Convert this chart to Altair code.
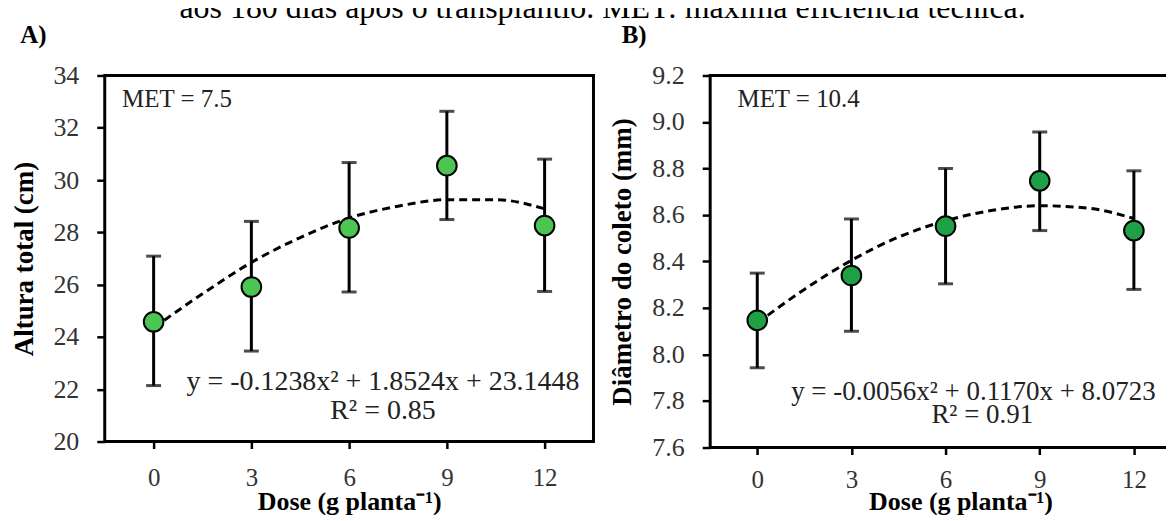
import altair as alt
import pandas as pd

SERIF = "Liberation Serif"

# ---------------- data ----------------
dose = [0, 3, 6, 9, 12]

altura_mean = [24.58, 25.91, 28.17, 30.55, 28.26]
altura_low = [22.14, 23.46, 25.72, 28.49, 25.74]
altura_high = [27.09, 28.42, 30.67, 32.63, 30.80]

diam_mean = [8.147, 8.34, 8.552, 8.747, 8.533]
diam_low = [7.943, 8.10, 8.304, 8.533, 8.28]
diam_high = [8.35, 8.583, 8.80, 8.957, 8.79]

curve_x = [0, 1.5, 3, 4.5, 6, 7.5, 9, 10.5, 12]
altura_fit = [24.35, 25.65, 26.85, 27.8, 28.55, 29.0, 29.25, 29.25, 28.9]
diam_fit = [8.135, 8.28, 8.405, 8.505, 8.575, 8.62, 8.64, 8.63, 8.585]

altura_ticks = [20, 22, 24, 26, 28, 30, 32, 34]
diam_ticks = [7.6, 7.8, 8.0, 8.2, 8.4, 8.6, 8.8, 9.0, 9.2]

caption = "aos 180 dias após o transplantio. MET: máxima eficiência técnica."
panel_labels = ["A)", "B)"]
met_labels = ["MET = 7.5", "MET = 10.4"]
eq_labels = ["y = -0.1238x\u00b2 + 1.8524x + 23.1448", "y = -0.0056x\u00b2 + 0.1170x + 8.0723"]
r2_labels = ["R\u00b2 = 0.85", "R\u00b2 = 0.91"]
y_titles = ["Altura total (cm)", "Diâmetro do coleto (mm)"]
x_title = "Dose (g planta\u207b\u00b9)"

# annotation anchor positions (data units)
a_text_pos = {"met": (-0.97, 33.09), "eq": (7.04, 22.29), "r2": (7.04, 21.15),
              "lab": (-4.09, 35.25), "cap": (13.78, 36.2)}
b_text_pos = {"met": (-0.63, 9.097), "eq": (1.08, 7.84), "r2": (7.17, 7.741),
              "lab": (-4.32, 9.34)}


def panel(mean, low, high, fit, ydom, yticks, yfmt, ytitle, fill, w, h,
          ytitle_x, xtitle_x, xtitle_y, xlab_pad, texts):
    pts = pd.DataFrame({"x": dose, "m": mean, "lo": low, "hi": high})
    fitdf = pd.DataFrame({"x": curve_x, "f": fit})
    xs = alt.Scale(domain=[-1.5, 13.5], nice=False, zero=False)
    ys = alt.Scale(domain=ydom, nice=False, zero=False)
    xax = alt.Axis(values=dose, format="d", title=x_title, domain=False, grid=False,
                   tickSize=7, tickWidth=2.5, tickColor="black",
                   labelFont=SERIF, labelFontSize=25, labelColor="#333333",
                   labelBaseline="alphabetic", labelPadding=xlab_pad,
                   titleFont=SERIF, titleFontSize=26, titleFontWeight="bold", titleColor="black",
                   titleX=xtitle_x, titleY=xtitle_y, titleBaseline="alphabetic", titleAlign="center")
    yax = alt.Axis(values=yticks, format=yfmt, title=ytitle, domain=False, grid=False,
                   tickSize=8, tickWidth=2.5, tickColor="black",
                   labelFont=SERIF, labelFontSize=26, labelColor="#333333", labelPadding=18,
                   titleFont=SERIF, titleFontSize=27, titleFontWeight="bold", titleColor="black",
                   titleX=ytitle_x, titleY=h / 2, titleAngle=270, titleBaseline="alphabetic",
                   titleAlign="center")

    def X(f):
        return alt.X(f"{f}:Q", scale=xs, axis=xax)

    def Y(f):
        return alt.Y(f"{f}:Q", scale=ys, axis=yax)

    base = alt.Chart(pts)
    rules = base.mark_rule(color="black", strokeWidth=3).encode(x=X("x"), y=Y("lo"), y2="hi:Q")
    cap_lo = base.mark_tick(orient="horizontal", size=15, thickness=3, color="black").encode(
        x=X("x"), y=Y("lo"))
    cap_hi = base.mark_tick(orient="horizontal", size=15, thickness=3, color="black").encode(
        x=X("x"), y=Y("hi"))
    curve = alt.Chart(fitdf).mark_line(color="black", strokeWidth=3, strokeDash=[8, 5],
                                       interpolate="monotone").encode(x=X("x"), y=Y("f"))
    dots = base.mark_point(shape="circle", filled=True, size=388, fill=fill, stroke="black",
                           strokeWidth=2, opacity=1).encode(x=X("x"), y=Y("m"))
    layers = [rules, cap_lo, cap_hi, curve, dots]
    for (px, py, s, size, align, baseline, bold, color) in texts:
        d = pd.DataFrame({"x": [px], "y": [py], "t": [s]})
        layers.append(alt.Chart(d).mark_text(
            font=SERIF, fontSize=size, align=align, baseline=baseline,
            fontWeight="bold" if bold else "normal", color=color,
        ).encode(x=X("x"), y=Y("y"), text="t:N"))
    return alt.layer(*layers).properties(width=w, height=h)


a_texts = [
    (*a_text_pos["met"], met_labels[0], 25, "left", "middle", False, "#222222"),
    (*a_text_pos["eq"], eq_labels[0], 28, "center", "middle", False, "#222222"),
    (*a_text_pos["r2"], r2_labels[0], 28, "center", "middle", False, "#222222"),
    (*a_text_pos["lab"], panel_labels[0], 25, "left", "alphabetic", True, "black"),
    (*a_text_pos["cap"], caption, 32, "center", "alphabetic", False, "black"),
]
b_texts = [
    (*b_text_pos["met"], met_labels[1], 25, "left", "middle", False, "#222222"),
    (*b_text_pos["eq"], eq_labels[1], 27, "left", "middle", False, "#222222"),
    (*b_text_pos["r2"], r2_labels[1], 27, "center", "middle", False, "#222222"),
    (*b_text_pos["lab"], panel_labels[1], 25, "left", "alphabetic", True, "black"),
]

pa = panel(altura_mean, altura_low, altura_high, altura_fit, [20, 34], altura_ticks, "d",
           y_titles[0], "#4CC552", 490, 367, -72.7, 245, 68, 37, a_texts)
pb = panel(diam_mean, diam_low, diam_high, diam_fit, [7.6, 9.2], diam_ticks, ".1f",
           y_titles[1], "#1FA046", 472, 373, -80, 251, 62, 33, b_texts)

chart = alt.hconcat(pa, pb, spacing=117, bounds="flush").configure_view(
    stroke="black", strokeWidth=3
).properties(padding={"left": 0, "top": -19, "right": -17, "bottom": -2})

chart.save("out.html", embed_options={"renderer": "svg", "actions": False})
